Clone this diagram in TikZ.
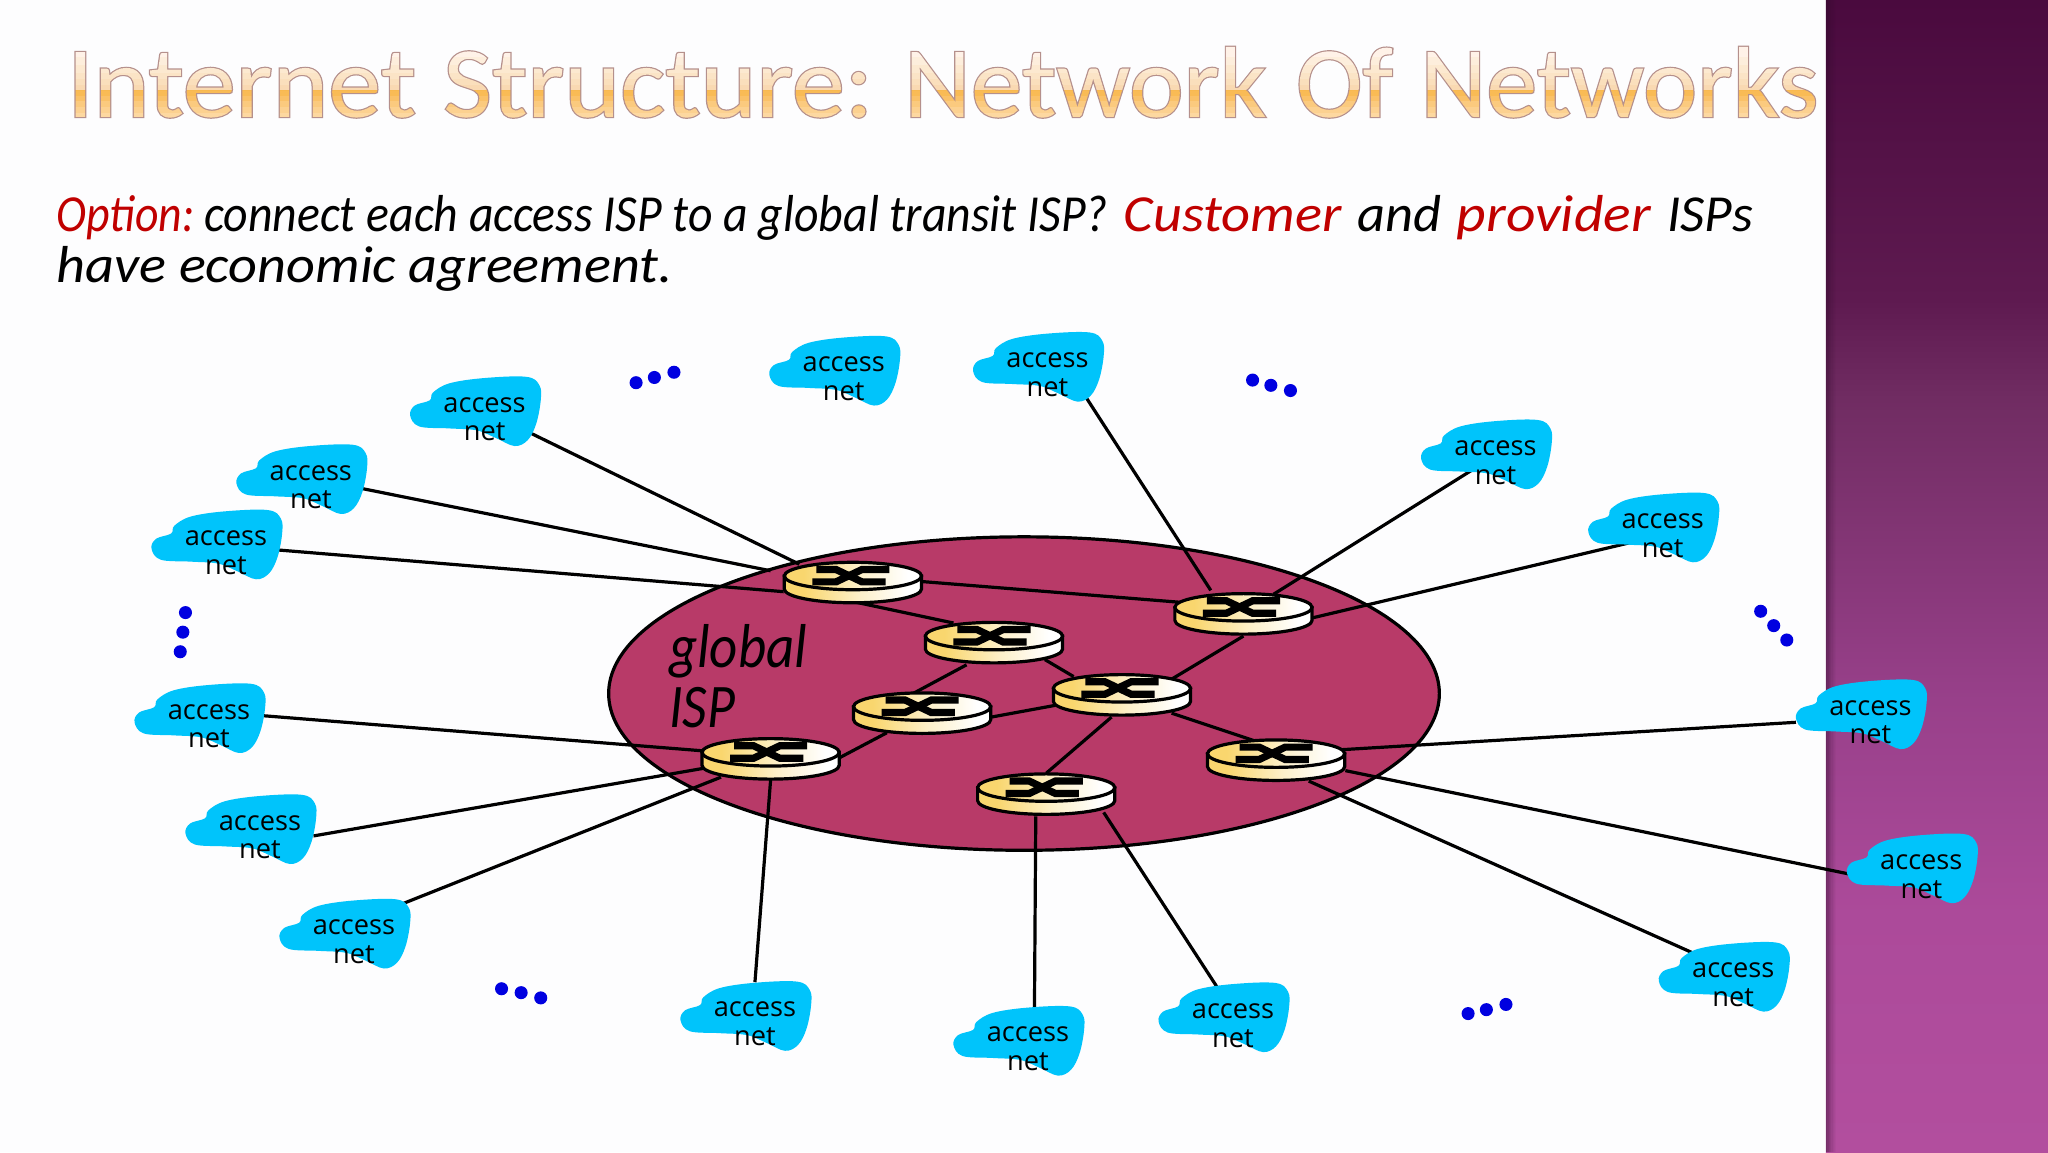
\documentclass[tikz,border=0pt]{standalone}
\usepackage{fontspec}
\usepackage{graphicx}
\usetikzlibrary{calc,shadings}
\newfontfamily\titlefont{Carlito}
\newfontfamily\bodyfont[ItalicFont=Carlito Italic]{Carlito}
\newfontfamily\netfont{Open Sans}
\definecolor{pagebg}{HTML}{FDFDFE}
\definecolor{ispfill}{HTML}{B83A68}
\definecolor{cloudfill}{HTML}{00C4FB}
\definecolor{rtyellow}{HTML}{F9D66E}
\definecolor{rtcream}{HTML}{FDF0C8}
\definecolor{optred}{HTML}{C00000}
\definecolor{dotblue}{HTML}{0000E0}
\definecolor{barA}{HTML}{4A0A3E}
\definecolor{barB}{HTML}{5E1A50}
\definecolor{barC}{HTML}{702C62}
\definecolor{barD}{HTML}{98408A}
\definecolor{barE}{HTML}{AC4A9A}
\definecolor{barF}{HTML}{B24E9E}
\definecolor{barEdge}{HTML}{2E0A2A}
\pgfdeclareverticalshading{sidebargrad}{100bp}{
 color(0bp)=(barF); color(25bp)=(barF); color(35.3bp)=(barE); color(44.6bp)=(barD);
 color(57.7bp)=(barC); color(62bp)=(barB); color(75bp)=(barA); color(100bp)=(barA)}
\pgfdeclarehorizontalshading{routergrad}{100bp}{
 color(0bp)=(rtyellow); color(32bp)=(rtyellow); color(52bp)=(rtcream); color(70bp)=(white); color(100bp)=(white)}
\pgfdeclarelayer{backlayer}
\pgfdeclarelayer{linklayer}
\pgfsetlayers{backlayer,linklayer,main}
\tikzset{
 link/.style={draw=black,line width=1.6pt},
 nettext/.style={font=\netfont\fontsize{13.6}{14.4}\selectfont,align=center,inner sep=0pt,text=black},
 routernode/.style={inner sep=0pt,minimum width=68pt,minimum height=14pt},
 routerpart/.style={shading=routergrad,draw=black,line width=1.6pt},
 routerx/.style={line width=3.6pt,black},
 bluedot/.style={fill=dotblue,draw=none},
 bodytext/.style={font=\bodyfont\itshape\fontsize{26}{26}\selectfont,anchor=base west,inner sep=0pt},
 ispext/.style={font=\bodyfont\itshape\fontsize{31}{31}\selectfont,anchor=base west,inner sep=0pt},
 titleword/.style={inner sep=0pt,anchor=base west},
}
\newcommand\accessnet[3]{%
 \fill[cloudfill,shift={(#2,#3-0.5)}] plot[smooth cycle,tension=.6] coordinates {
 (-57,-2.5) (-53.5,-10) (-42,-14) (-39.5,-20) (-27,-27) (-1,-31) (32,-32) (42,-25.5)
 (43,-14) (39.5,4) (33,16.5) (23,21) (9,15) (-6,9) (-27,7.5) (-50,6)};
 \node[nettext] (#1) at (#2,#3) {access\\net};}
\newcommand\router[3]{%
 \begin{scope}[shift={(#2,#3)}]
 \path[routerpart]
   (-52.5,0) -- (-52.5,10) arc[start angle=180,end angle=0,x radius=52.5,y radius=10.5] -- (52.5,0) -- cycle;
 \path[routerpart] (0,0) ellipse[x radius=52.5,y radius=10.5];
 \draw[routerx] (-28,-5) -- (-13,-5) -- (7,4.5) -- (25,4.5);
 \draw[routerx] (-31,4.5) -- (-13,4.5) -- (7,-5) -- (28,-5);
 \end{scope}
 \node[routernode] (#1) at (#2,#3) {};}
\newcommand\dotrow[6]{%
 \fill[bluedot] (#1,#2) circle[radius=5];
 \fill[bluedot] (#3,#4) circle[radius=5];
 \fill[bluedot] (#5,#6) circle[radius=5];}
\newcommand\fitw[2]{\resizebox{#1pt}{\height}{#2}}
% title: each word is stroked and used as a clip (PDF text mode 5), then gradient bands are painted through it
\newsavebox\titlebox
\newcommand\gradrule[3]{%
 \rlap{\color[HTML]{#1}\raisebox{#2}{\rule{\wd\titlebox}{#3}}}}
\newcommand\flushmark{\textcolor{pagebg}{\rule{0.01pt}{0.01pt}}}
\newcommand\titlefill[1]{%
 \sbox\titlebox{#1}%
 \flushmark\special{pdf:code q 5 Tr 1.2 w 0.71 0.565 0.55 RG}%
 \rlap{#1}%
 \flushmark\special{pdf:code 0 Tr}%
 \gradrule{FDD8A0}{-2pt}{4pt}%
 \gradrule{FCD190}{2pt}{3pt}%
 \gradrule{FBCA7E}{5pt}{3pt}%
 \gradrule{FAC168}{8pt}{2.5pt}%
 \gradrule{F9BB55}{10.5pt}{2.5pt}%
 \gradrule{F8B84F}{13pt}{.6pt}%
 \gradrule{F9D9B2}{13.6pt}{2.6pt}%
 \gradrule{FADFBC}{16.2pt}{3pt}%
 \gradrule{FBE4C6}{19.2pt}{3pt}%
 \gradrule{FCE9D0}{22.2pt}{4pt}%
 \gradrule{FDEEDC}{26.2pt}{4pt}%
 \gradrule{FFF2E8}{30.2pt}{12pt}%
 \special{pdf:code Q}%
 \hbox to \wd\titlebox{\hss}}
\newcommand\titleword[4]{%
 \node[titleword] (#1) at (#2,89.5) {\titlefont\fontsize{50.5}{52}\selectfont\fitw{#3}{\titlefill{#4}}};}
\begin{document}
\begin{tikzpicture}[x=0.65306pt,y=-0.65306pt]
\useasboundingbox (0,0) rectangle (1568,882);
\begin{pgfonlayer}{backlayer}
% page and side bar
\fill[pagebg] (0,0) rectangle (1568,882);
\shade[shading=sidebargrad] (1398,0) rectangle (1568,882);
\foreach \i/\o in {0/.45,1/.38,2/.3,3/.24,4/.17,5/.11,6/.07,7/.03}{
  \fill[barEdge,opacity=\o] (1398+\i,0) rectangle (1399+\i,882);}
% global ISP ellipse
\draw[fill=ispfill,draw=black,line width=1.6pt] (784,531) ellipse[x radius=318,y radius=120];
\end{pgfonlayer}
% title
\titleword{tw1}{51}{174.5}{Internet}
\titleword{tw2}{339}{215}{Structure:}
\titleword{tw3}{692}{181}{Network}
\titleword{tw4}{992}{48.5}{Of}
\titleword{tw5}{1087}{199}{Networks}
% body text
\node[bodytext,text=optred] (opt) at (43,177.5) {\fitw{69}{Option:}};
\node[bodytext] (l1a) at (156,177.5) {\fitw{452}{connect each access ISP to a global transit ISP?}};
\node[bodytext,text=optred] (l1b) at (860,177.5) {\fitw{109}{Customer}};
\node[bodytext] (l1c) at (1039,177.5) {\fitw{42}{and}};
\node[bodytext,text=optred] (l1d) at (1115,177.5) {\fitw{97}{provider}};
\node[bodytext] (l1e) at (1276,177.5) {\fitw{43}{ISPs}};
\node[bodytext] (l2) at (43,216) {\fitw{308}{have economic agreement.}};
\node[ispext] (gl1) at (512,511) {\fitw{69}{global}};
\node[ispext] (gl2) at (512,557) {\fitw{33}{ISP}};
% clouds
\accessnet{c1}{371}{321}
\accessnet{c2}{238}{373}
\accessnet{c3}{173}{423}
\accessnet{c4}{160}{556}
\accessnet{c5}{199}{641}
\accessnet{c6}{271}{721}
\accessnet{c7}{578}{784}
\accessnet{c8}{787}{803}
\accessnet{c9}{944}{785}
\accessnet{c10}{1327}{754}
\accessnet{c11}{1471}{671}
\accessnet{c12}{1432}{553}
\accessnet{c13}{1273}{410}
\accessnet{c14}{1145}{354}
\accessnet{c15}{802}{287}
\accessnet{c16}{646}{290}
% routers
\router{r1}{653}{441}
\router{r2}{761}{487}
\router{r3}{706}{541}
\router{r4}{859}{527}
\router{r5}{801}{603}
\router{r6}{590}{576}
\router{r7}{952}{465}
\router{r8}{977}{577}
% connectors
\begin{pgfonlayer}{linklayer}
\draw[link] ([shift={(34,10)}]c1.center) -- ([shift={(-41,-9)}]r1.center);
\draw[link] ([shift={(39,1)}]c2.center) -- ([shift={(-63,-4)}]r1.center);
\draw[link] ([shift={(39,-2)}]c3.center) -- ([shift={(-53,12)}]r1.center);
\draw[link] ([shift={(42,-8)}]c4.center) -- ([shift={(-50,-1)}]r6.center);
\draw[link] ([shift={(41,-1)}]c5.center) -- ([shift={(-50,12)}]r6.center);
\draw[link] ([shift={(37,-29)}]c6.center) -- ([shift={(-38,19)}]r6.center);
\draw[link] ([shift={(0,-32)}]c7.center) -- ([shift={(0,21)}]r6.center);
\draw[link] ([shift={(5,-31)}]c8.center) -- ([shift={(-8,22)}]r5.center);
\draw[link] ([shift={(-12,-29)}]c9.center) -- ([shift={(44,19)}]r5.center);
\draw[link] ([shift={(-30,-24)}]c10.center) -- ([shift={(25,21)}]r8.center);
\draw[link] ([shift={(-56,-2)}]c11.center) -- ([shift={(53,13)}]r8.center);
\draw[link] ([shift={(-57,0)}]c12.center) -- (r8.center);
\draw[link] ([shift={(-23,5)}]c13.center) -- ([shift={(53,8)}]r7.center);
\draw[link] ([shift={(-15,4)}]c14.center) -- ([shift={(23,-10)}]r7.center);
\draw[link] ([shift={(30,18)}]c15.center) -- ([shift={(-25,-13)}]r7.center);
\draw[link] (r1.center) -- (r7.center);
\draw[link] ([shift={(2,20)}]r1.center) -- ([shift={(-31,-10)}]r2.center);
\draw[link] ([shift={(-21,22)}]r2.center) -- ([shift={(-7,-10)}]r3.center);
\draw[link] ([shift={(39,18)}]r2.center) -- ([shift={(-37,-9)}]r4.center);
\draw[link] ([shift={(53,8)}]r3.center) -- ([shift={(-51,13)}]r4.center);
\draw[link] ([shift={(-27,20)}]r3.center) -- ([shift={(53,4)}]r6.center);
\draw[link] ([shift={(-8,22)}]r4.center) -- ([shift={(0,-11)}]r5.center);
\draw[link] ([shift={(38,-7)}]r4.center) -- ([shift={(0,22)}]r7.center);
\draw[link] ([shift={(38,19)}]r4.center) -- ([shift={(-17,-10)}]r8.center);
\end{pgfonlayer}
% dots
\dotrow{487}{293}{501}{289}{516}{285}
\dotrow{959}{291}{973}{295}{988}{299}
\dotrow{142}{469}{140}{484}{138}{499}
\dotrow{1348}{468}{1358}{479}{1368}{490}
\dotrow{384}{757}{399}{760}{414}{764}
\dotrow{1124}{776}{1138}{773}{1153}{769}
\end{tikzpicture}
\end{document}
